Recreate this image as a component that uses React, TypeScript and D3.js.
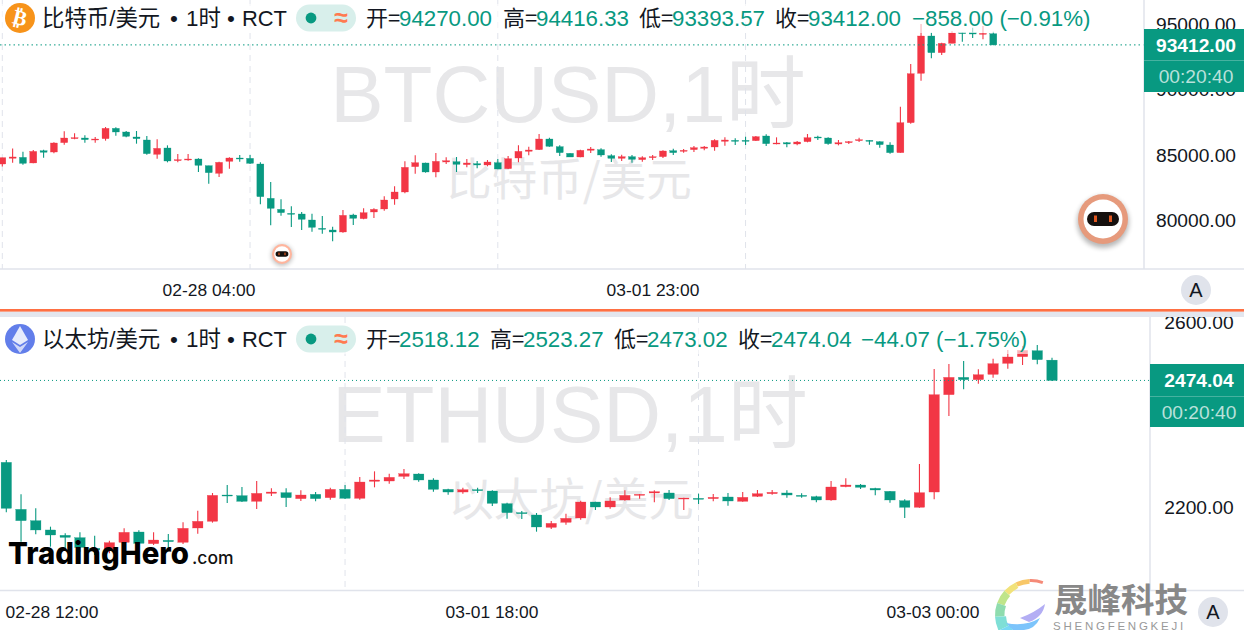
import React from "react";
import * as d3 from "d3";

// ---------- Data ----------
const btcOpen = [84270,84710,84780,84350,85290,85190,85910,86215,86266,86113,86215,87008,86727,86343,86113,85013,85499,84527,84578,84655,84143,83555,84476,84731,84706,84271,81636,80792,80485,80434,79973,79334,79206,79052,80357,80076,80587,80818,81585,82122,84066,84348,83657,84424,84450,84220,84297,84194,84373,83913,84731,85243,85371,86189,85601,85090,84808,85320,85371,84910,84706,84834,84603,84757,84834,85294,85269,85371,85473,85576,86010,86087,86087,86062,86420,85831,85908,85806,85985,86343,86266,85806,85908,86062,86087,85985,85729,85141,87443,91229,94094,92815,93531,94350,94350,94222,94270];
const btcHigh = [84760,85470,85220,85350,85370,85934,86778,86624,86471,86343,87110,87085,86803,86803,86420,86164,85703,85038,85038,84706,84143,84450,84783,84962,84962,84399,82890,81559,81022,80587,80459,80280,79462,80741,80459,80869,80869,81790,82557,84476,84936,84373,85115,84783,84808,84655,84501,84578,84655,84885,85703,85601,86573,86292,85703,85090,85371,85576,85473,85013,84987,84962,84859,84962,85320,85448,85422,85652,85652,86164,86317,86241,86369,86420,86548,86317,85959,86036,86573,86445,86317,86113,86036,86292,86113,86010,85934,88671,91945,95015,94350,93582,94452,94376,94733,94861,94416.33];
const btcLow = [84070,84370,84220,84320,84760,85090,85755,86164,85908,85908,86062,86445,86317,85831,84987,84680,84399,84399,84527,83657,82762,83273,83913,84450,84271,81176,79564,80306,79436,79206,79078,78925,78336,79001,79590,80025,80127,80690,81150,82020,83529,83606,83248,84271,83657,84015,83938,84092,83862,83887,84399,84936,85345,85601,84885,84808,84783,85115,84834,84424,84501,84373,84450,84578,84731,84962,85141,85192,85320,85294,85678,85729,85729,86036,85652,85780,85550,85703,85934,86113,85755,85703,85806,85959,85755,85524,85064,85141,87366,90666,92380,92636,93531,93659,93940,93838,93393.57];
const btcClose = [84760,84810,84320,85240,85170,85883,86266,86292,86138,86189,87008,86727,86394,86215,85064,85473,84501,84603,84655,84169,83606,84399,84731,84655,84322,81764,80869,80536,80408,80025,79411,79257,79052,80331,80101,80536,80792,81508,82122,84015,84373,83657,84476,84527,84245,84348,84194,84424,83887,84680,85243,85345,86189,85627,85141,84808,85320,85422,84962,84706,84834,84629,84757,84834,85269,85141,85320,85524,85576,86087,86113,86010,86010,86369,85831,85883,85806,85959,86292,86266,85831,85908,85985,86138,86010,85755,85141,87443,91203,94094,92815,93531,94324,94273,94247,94298,93412];

const ethOpen = [2296.2,2194.2,2169.6,2149.4,2137.8,2132.7,2109.6,2106,2122.6,2145,2119.7,2126.9,2122.6,2153.7,2168.2,2225.3,2223.9,2211.6,2228.9,2230.4,2217.4,2226.8,2219.5,2237.6,2218.1,2255,2255.7,2265.8,2270.9,2257.9,2237.6,2231.8,2236.9,2234,2206.5,2187,2181.9,2155.1,2166,2175.4,2210.1,2199.3,2214.5,2224.6,2229.7,2229.7,2216.6,2218.1,2217.4,2221,2211.6,2222.4,2228.2,2229.7,2224.6,2221.7,2214.5,2243.4,2247,2239.8,2233.3,2213,2198.6,2231.8,2443.1,2480.7,2475.7,2487.2,2511.1,2525.6,2538.6,2518.12];
const ethHigh = [2301.3,2226.8,2196.4,2156.6,2142.1,2144.3,2137.1,2126.2,2153,2148.6,2144.3,2140.7,2166,2191.3,2229.7,2247,2242.7,2255.7,2239.8,2239.8,2235.5,2231.8,2241.2,2247,2264.4,2276.7,2271.6,2281.8,2272.4,2261.5,2239.1,2241.2,2241.2,2235.5,2208.7,2190.6,2186.3,2168.9,2184.8,2213,2210.9,2220.3,2235.5,2227.5,2235.5,2236.2,2219.5,2228.2,2227.5,2229.7,2231.8,2236.2,2236.2,2235.5,2228.9,2223.9,2255.7,2261.5,2249.2,2241.2,2234,2215.9,2292.6,2498.8,2509.7,2516.2,2498.1,2521.2,2540,2548.7,2550.9,2523.27];
const ethLow = [2187.7,2124,2140,2113.2,2106,2102.3,2095.1,2098.7,2120.4,2116.8,2116.8,2109.6,2119,2141.4,2165.3,2208,2210.1,2194.9,2223.2,2199.3,2212.3,2211.6,2215.2,2216.6,2215.2,2242,2249.9,2260,2254.3,2232.6,2226,2228.2,2229.7,2201.4,2174,2173.2,2145.7,2151.5,2160.9,2171.8,2192.8,2195.7,2213,2217.4,2209.4,2214.5,2192.8,2205.8,2211.6,2202.2,2210.9,2221,2226,2219.5,2219.5,2209.4,2213,2242,2238.3,2224.6,2208.7,2175.4,2197.8,2215.9,2396.8,2454.7,2467,2480,2499.5,2507.5,2508.9,2473.02];
const ethClose = [2196.4,2169.6,2149.4,2138.5,2133.4,2111.7,2106,2121.9,2144.3,2120.4,2127.6,2124,2153,2168.2,2224.6,2223.2,2211.6,2228.9,2231.8,2219.5,2225.3,2217.4,2237.6,2218.1,2253.5,2257.9,2263.7,2271.6,2257.9,2237.6,2231.8,2236.9,2234.7,2207.2,2187,2184.8,2155.9,2163.8,2174.7,2210.1,2199.3,2212.3,2224.6,2226.8,2232.6,2217.4,2218.8,2215.9,2220.3,2212.3,2220.3,2228.2,2231.1,2225.3,2222.4,2214.5,2242.7,2247,2242,2236.2,2214.5,2198.6,2230.4,2443.1,2480.7,2475.7,2486.5,2510.4,2524.9,2539.3,2519.1,2474.04];

const btcPriceTicks = [95000, 90000, 85000, 80000];
const ethPriceTicks = [2600, 2200];
const btcGridCandles = [0, 24, 48, 72];
const ethGridCandles = [23, 47];
const btcTimeLabels = ["02-28 04:00", "03-01 23:00"];
const ethTimeLabels = ["02-28 12:00", "03-01 18:00", "03-03 00:00"];
const legendLabels = ["开=", "高=", "低=", "收="];
const btcLegendValues = ["94270.00", "94416.33", "93393.57", "93412.00"];
const btcChange = "−858.00 (−0.91%)";
const ethLegendValues = ["2518.12", "2523.27", "2473.02", "2474.04"];
const ethChange = "−44.07 (−1.75%)";
const countdown = "00:20:40";

// ---------- Style ----------
const UP = "#f23645";
const DOWN = "#089981";
const LINE = "#e0e3eb";
const INK = "#131722";
const WM = "#e7e7e9";
const FONT = '"Liberation Sans", "Noto Sans CJK SC", sans-serif';
const CJK = '"Noto Sans CJK SC", "Liberation Sans", sans-serif';
const W = 1244;

type PanelProps = {
  open: number[]; high: number[]; low: number[]; close: number[];
  y: d3.ScaleLinear<number, number>; x: d3.ScaleLinear<number, number>;
  bodyW: number; grid: number[]; top: number; bottom: number; axisX: number;
  ticks: number[]; tickX: number; dotted: string;
  last: number;
};

function Panel(p: PanelProps) {
  return (
    <g>
      {p.grid.map((i) => (
        <line key={i} x1={p.x(i)} x2={p.x(i)} y1={p.top} y2={p.bottom} stroke={LINE} strokeWidth={1} strokeDasharray="6 5" />
      ))}
      {p.open.map((o, i) => {
        const c = p.close[i];
        const col = c >= o ? UP : DOWN;
        const cx = p.x(i);
        const t = p.y(Math.max(o, c));
        const b = p.y(Math.min(o, c));
        return (
          <g key={i} fill={col} stroke={col}>
            <line x1={cx} x2={cx} y1={p.y(p.high[i])} y2={p.y(p.low[i])} strokeWidth={1.1} />
            <rect x={cx - p.bodyW / 2} y={t} width={p.bodyW} height={Math.max(b - t, 1)} strokeWidth={0.3} />
          </g>
        );
      })}
      <line x1={0} x2={p.axisX} y1={p.y(p.last)} y2={p.y(p.last)} stroke={DOWN} strokeWidth={1} strokeDasharray={p.dotted} />
      <line x1={p.axisX} x2={p.axisX} y1={p.top} y2={p.bottom} stroke={LINE} strokeWidth={1.5} />
      <line x1={0} x2={W} y1={p.bottom} y2={p.bottom} stroke={LINE} strokeWidth={1.5} />
      {p.ticks.map((t) => (
        <text key={t} x={p.tickX} y={p.y(t) + 7} textAnchor="middle" fontSize={19.2} fill={INK} fontFamily={FONT}>
          {d3.format(".2f")(t)}
        </text>
      ))}
    </g>
  );
}

function Legend(props: {
  y: number; name: string; values: string[]; change: string;
  labelX: number[]; valueX: number[]; changeX: number; bgW: number;
}) {
  const { y, name, values, change, labelX, valueX, changeX, bgW } = props;
  return (
    <g fontFamily={FONT}>
      <rect x={0} y={y - 14} width={bgW} height={29} fill="#fff" opacity={0.62} />
      <g fontSize={22.4} fill={INK}>
        <text x={42} y={y + 8}>{name}</text>
        <text x={174} y={y + 8} textAnchor="middle">•</text>
        <text x={186} y={y + 8}>1时</text>
        <text x={231} y={y + 8} textAnchor="middle">•</text>
        <text x={242} y={y + 8} textLength={45} lengthAdjust="spacingAndGlyphs">RCT</text>
      </g>
      <rect x={296} y={y - 13.5} width={60} height={27} rx={13.5} fill="#d8efeb" />
      <circle cx={311} cy={y} r={5.4} fill={DOWN} />
      <text x={341} y={y + 8} textAnchor="middle" fontSize={25} fontWeight={700} fill="#ff7a50">≈</text>
      {legendLabels.map((l, i) => (
        <text key={l} x={labelX[i]} y={y + 7.5} fontSize={22} fill={INK} fontFamily={CJK}>{l}</text>
      ))}
      {values.map((v, i) => (
        <text key={v} x={valueX[i]} y={y + 7.5} fontSize={22.3} fill={DOWN}>{v}</text>
      ))}
      <text x={changeX} y={y + 7.5} fontSize={22.3} fill={DOWN}>{change}</text>
    </g>
  );
}

function PriceTag(props: { x: number; top: number; mid: number; bottom: number; price: string; textX: number }) {
  const { x, top, mid, bottom, price, textX } = props;
  return (
    <g fontFamily={FONT} textAnchor="middle">
      <rect x={x} y={top} width={W - x} height={bottom - top} fill={DOWN} />
      <line x1={x} x2={W} y1={mid} y2={mid} stroke="#fff" strokeOpacity={0.25} />
      <text x={textX} y={(top + mid) / 2 + 7} fontSize={19.2} fontWeight={700} fill="#fff">{price}</text>
      <text x={textX} y={(mid + bottom) / 2 + 7} fontSize={19.2} fill="#fff" fillOpacity={0.72}>{countdown}</text>
    </g>
  );
}

function Robot({ cx, cy, r }: { cx: number; cy: number; r: number }) {
  const k = r / 25;
  return (
    <g>
      <circle cx={cx} cy={cy + 3 * k} r={r + 1 * k} fill="#000" opacity={0.28} filter="url(#robotShadow)" />
      <circle cx={cx} cy={cy} r={r} fill={k < 0.6 ? "#ffb59d" : "#e69a7c"} />
      <circle cx={cx} cy={cy} r={r * 0.78} fill="#fff" />
      <rect x={cx - 16 * k} y={cy - 7 * k} width={32 * k} height={14 * k} rx={7 * k} fill="#15100e" />
      <rect x={cx - 9 * k} y={cy - 3.5 * k} width={3 * k} height={6.5 * k} fill="#e0561f" />
      <rect x={cx + 6 * k} y={cy - 3.5 * k} width={3 * k} height={6.5 * k} fill="#e0561f" />
    </g>
  );
}

const swirlColors = ["#f58a78", "#f8c768", "#f1e27a", "#bfe58a", "#8fdcae", "#7fdfd6", "#78d8f4", "#6cc4fa", "#62aef8"];

function Swirl() {
  const arc = d3.arc();
  const n = swirlColors.length;
  const a0 = 0.35;
  const a1 = -3.2;
  return (
    <g transform="translate(1031,615)">
      {swirlColors.map((c, i) => {
        const s = a0 + ((a1 - a0) * i) / n;
        const e = a0 + ((a1 - a0) * (i + 1)) / n;
        const d = arc({ innerRadius: 33 - 1.6 * i, outerRadius: 36, startAngle: s, endAngle: e } as any) as string;
        return <path key={c} d={d} fill={c} />;
      })}
      <path d="M -11 3 Q 3 -2 14 -11 Q 12 2 -2 7 Z" fill="#b3aef4" />
      <path d="M -25 8 Q -6 12 9 3 Q 4 14 -7 15 L -18 15 Z" fill="#7cc4fb" />
    </g>
  );
}

export default function App() {
  const xBtc = d3.scaleLinear().domain([0, btcOpen.length - 1]).range([2.3, 993.3]);
  const yBtc = d3.scaleLinear().domain([85000, 95000]).range([154.5, 24.2]);
  const xEth = d3.scaleLinear().domain([0, ethOpen.length - 1]).range([6.3, 1052]);
  const yEth = d3.scaleLinear().domain([2200, 2600]).range([506.67, 322.4]);

  return (
    <svg width={1244} height={630} viewBox="0 0 1244 630" style={{ position: "fixed", left: 0, top: 0, background: "#fff" }}>
      <defs>
        <filter id="robotShadow" x="-50%" y="-50%" width="200%" height="200%">
          <feGaussianBlur stdDeviation="2.5" />
        </filter>
      </defs>
      <rect width={1244} height={630} fill="#fff" />

      {/* watermarks */}
      <g textAnchor="middle" fill={WM} fontFamily={FONT}>
        <text x={568} y={122} fontSize={80}>BTCUSD,1时</text>
        <text x={569} y={196} fontSize={45.5} fontFamily={CJK}>比特币/美元</text>
        <text x={570} y={442} fontSize={80}>ETHUSD,1时</text>
        <text x={571} y={516} fontSize={45.5} fontFamily={CJK}>以太坊/美元</text>
      </g>

      <Panel open={btcOpen} high={btcHigh} low={btcLow} close={btcClose} x={xBtc} y={yBtc} bodyW={7}
        grid={btcGridCandles} top={0} bottom={269} axisX={1144} ticks={btcPriceTicks} tickX={1196} dotted="1.5 3" last={93412} />
      <PriceTag x={1144} top={29} mid={60.5} bottom={92} price="93412.00" textX={1196} />

      <Legend y={18} name="比特币/美元" values={btcLegendValues} change={btcChange}
        labelX={[366, 503, 639, 775]} valueX={[399, 536, 672, 808]} changeX={912} bgW={1092} />
      <circle cx={20} cy={18} r={15} fill="#f7931a" />
      <text x={20} y={25} textAnchor="middle" fontSize={21} fontWeight={700} fill="#fff" fontFamily='"DejaVu Sans"' transform="rotate(14 20 18)">₿</text>

      {/* time axis, top */}
      <g fontFamily={FONT} fontSize={17.4} fill={INK} textAnchor="middle">
        <text x={209} y={296}>{btcTimeLabels[0]}</text>
        <text x={653} y={296}>{btcTimeLabels[1]}</text>
      </g>
      <circle cx={1196} cy={290} r={15} fill={LINE} />
      <text x={1196} y={297} textAnchor="middle" fontSize={20} fill={INK} fontFamily={FONT}>A</text>
      <Robot cx={1103} cy={219} r={25} />
      <Robot cx={282} cy={254} r={10} />

      {/* divider */}
      <rect x={0} y={311.6} width={W} height={5.4} fill="#e3e6ee" />

      <Panel open={ethOpen} high={ethHigh} low={ethLow} close={ethClose} x={xEth} y={yEth} bodyW={10.4}
        grid={ethGridCandles} top={317} bottom={590.5} axisX={1150} ticks={ethPriceTicks} tickX={1199} dotted="1 3" last={2474.04} />
      <rect x={0} y={311.6} width={W} height={5.4} fill="#e3e6ee" />
      <rect x={0} y={309} width={W} height={2.6} fill="#ff7043" />
      <PriceTag x={1150} top={364} mid={396.5} bottom={427} price="2474.04" textX={1199} />

      <Legend y={339} name="以太坊/美元" values={ethLegendValues} change={ethChange}
        labelX={[366, 490, 614, 738]} valueX={[399, 523, 647, 771]} changeX={861} bgW={1030} />
      <circle cx={20} cy={339} r={15} fill="#627eea" />
      <polygon points="20,326 28,340 20,345 12,340" fill="#fff" fillOpacity={0.85} />
      <polygon points="20,347 28,342 20,353 12,342" fill="#fff" fillOpacity={0.7} />

      {/* time axis, bottom */}
      <g fontFamily={FONT} fontSize={17.4} fill={INK} textAnchor="middle">
        <text x={52} y={618}>{ethTimeLabels[0]}</text>
        <text x={492} y={618}>{ethTimeLabels[1]}</text>
        <text x={933} y={618}>{ethTimeLabels[2]}</text>
      </g>
      <circle cx={1213} cy={612} r={15} fill={LINE} />
      <text x={1213} y={619} textAnchor="middle" fontSize={20} fill={INK} fontFamily={FONT}>A</text>

      {/* brand marks */}
      <text x={8} y={564} fontFamily="Inter, sans-serif" fontWeight={800} fontSize={30} fill="#000" textLength={181} lengthAdjust="spacingAndGlyphs">TradingHero</text>
      <text x={192} y={564} fontFamily="Inter, sans-serif" fontWeight={500} fontSize={17.5} fill="#111">.com</text>

      <Swirl />
      <text x={1054} y={612} fontFamily={CJK} fontWeight={700} fontSize={33.5} fill="#888">晟峰科技</text>
      <text x={1053} y={629.5} fontFamily={FONT} fontSize={11.5} fill="#999" letterSpacing={2.75}>SHENGFENGKEJI</text>
    </svg>
  );
}
